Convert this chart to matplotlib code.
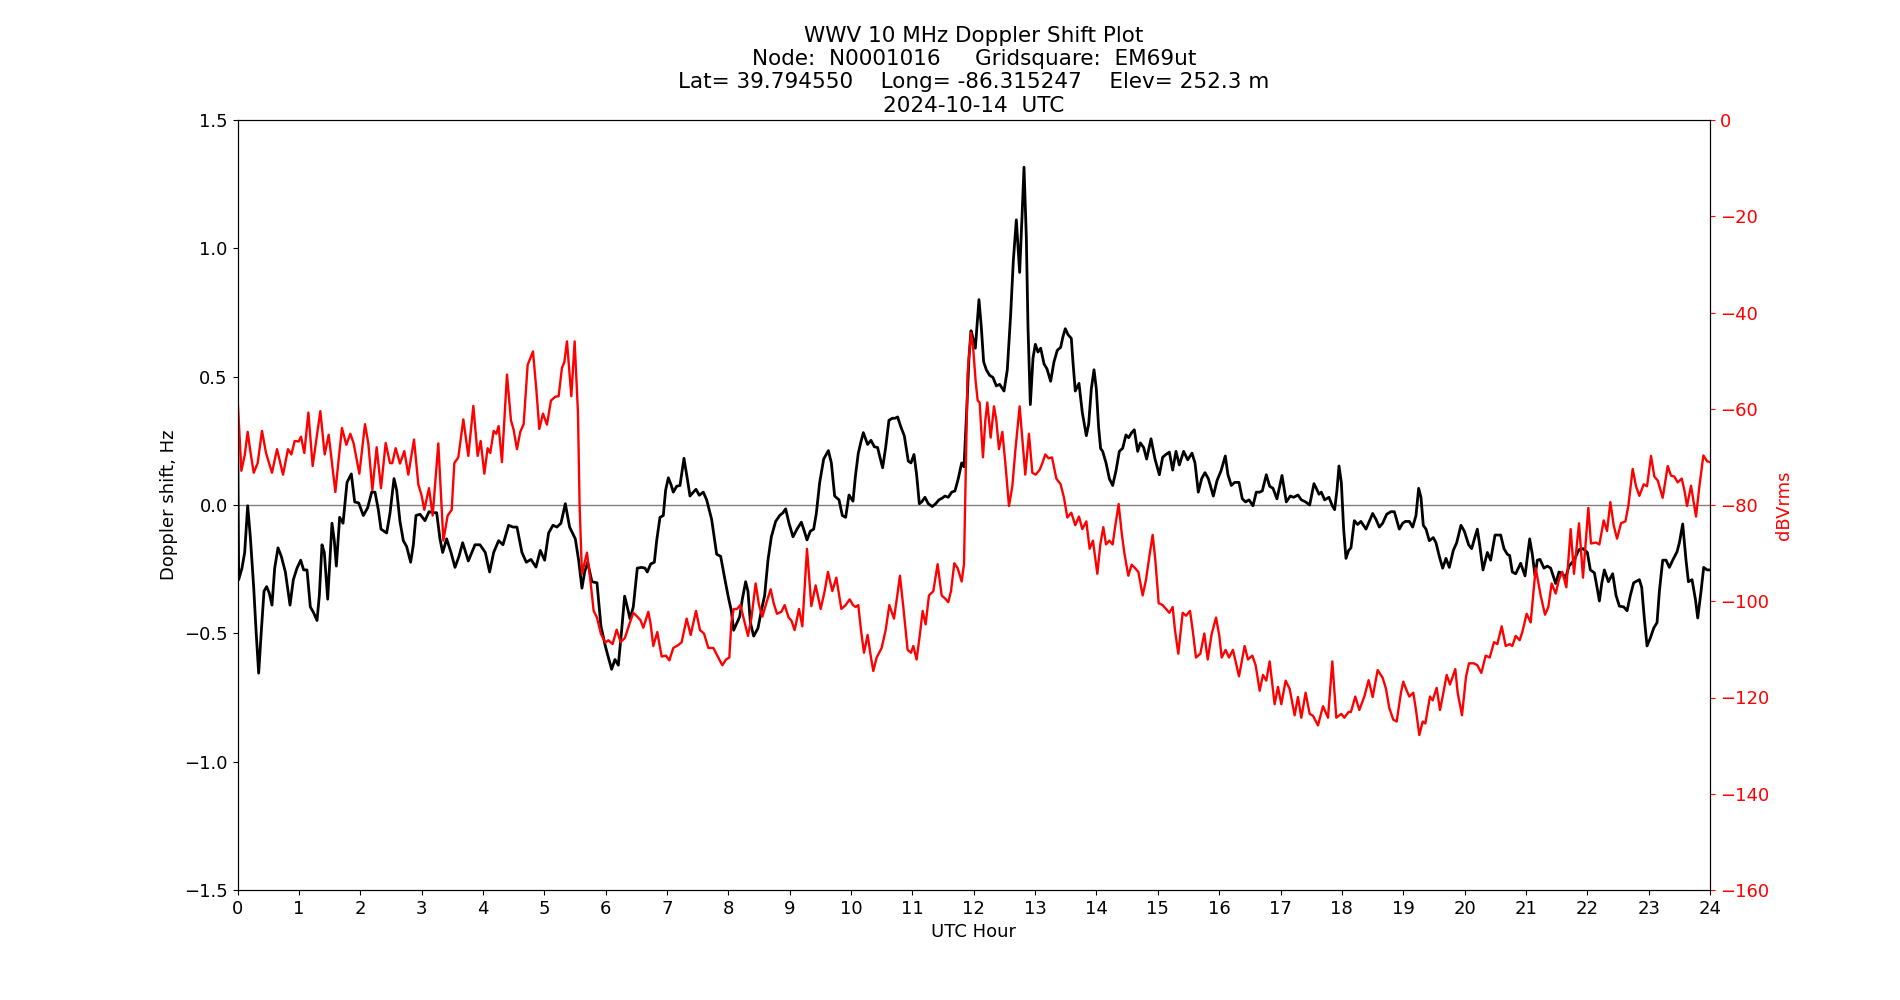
"""
WWV 10 MHz Doppler shift and received level over one UTC day.
"""

import matplotlib

matplotlib.use("Agg")
import matplotlib.pyplot as plt

# Doppler shift (Hz) vs UTC hour
dop_hours = [
    0.000, 0.019, 0.073, 0.117, 0.166, 0.209, 0.264, 0.302, 0.345, 0.389, 0.432, 0.475, 0.519, 0.562,
    0.606, 0.660, 0.714, 0.780, 0.856, 0.910, 0.970, 1.030, 1.078, 1.133, 1.187, 1.241, 1.296, 1.334,
    1.377, 1.415, 1.470, 1.540, 1.578, 1.611, 1.665, 1.720, 1.785, 1.855, 1.910, 1.975, 2.051, 2.121,
    2.187, 2.241, 2.295, 2.339, 2.431, 2.485, 2.551, 2.594, 2.648, 2.703, 2.757, 2.822, 2.866, 2.909,
    2.974, 3.056, 3.121, 3.192, 3.246, 3.300, 3.344, 3.409, 3.480, 3.545, 3.610, 3.670, 3.762, 3.871,
    3.952, 4.039, 4.109, 4.175, 4.256, 4.327, 4.419, 4.490, 4.555, 4.636, 4.707, 4.783, 4.865, 4.935,
    5.006, 5.071, 5.142, 5.207, 5.272, 5.343, 5.413, 5.506, 5.560, 5.614, 5.658, 5.707, 5.777, 5.859,
    5.924, 5.995, 6.040, 6.098, 6.152, 6.207, 6.261, 6.310, 6.353, 6.397, 6.451, 6.516, 6.587, 6.641,
    6.679, 6.734, 6.794, 6.832, 6.886, 6.940, 6.978, 7.022, 7.065, 7.103, 7.158, 7.212, 7.277, 7.331,
    7.375, 7.429, 7.473, 7.527, 7.592, 7.647, 7.728, 7.810, 7.875, 7.945, 8.000, 8.049, 8.087, 8.130,
    8.185, 8.228, 8.282, 8.320, 8.359, 8.413, 8.483, 8.538, 8.592, 8.646, 8.701, 8.771, 8.837, 8.891,
    8.934, 8.989, 9.054, 9.119, 9.190, 9.228, 9.282, 9.336, 9.391, 9.434, 9.489, 9.554, 9.630, 9.679,
    9.733, 9.804, 9.858, 9.912, 9.967, 10.032, 10.070, 10.118, 10.162, 10.200, 10.270, 10.325, 10.379,
    10.433, 10.471, 10.515, 10.564, 10.618, 10.673, 10.716, 10.759, 10.814, 10.868, 10.933, 10.977,
    11.026, 11.069, 11.113, 11.151, 11.205, 11.259, 11.324, 11.379, 11.433, 11.487, 11.531, 11.585,
    11.640, 11.694, 11.748, 11.803, 11.841, 11.884, 11.922, 11.955, 11.990, 12.026, 12.085, 12.123,
    12.161, 12.205, 12.259, 12.313, 12.368, 12.422, 12.493, 12.547, 12.601, 12.645, 12.694, 12.748,
    12.786, 12.819, 12.857, 12.884, 12.922, 12.966, 13.004, 13.047, 13.091, 13.145, 13.194, 13.253,
    13.308, 13.362, 13.416, 13.454, 13.492, 13.536, 13.590, 13.617, 13.655, 13.715, 13.769, 13.835,
    13.873, 13.916, 13.960, 13.998, 14.036, 14.068, 14.101, 14.156, 14.210, 14.264, 14.318, 14.373,
    14.427, 14.481, 14.525, 14.574, 14.617, 14.672, 14.715, 14.769, 14.818, 14.889, 14.954, 15.025,
    15.079, 15.133, 15.188, 15.242, 15.296, 15.351, 15.421, 15.487, 15.557, 15.606, 15.660, 15.715,
    15.769, 15.823, 15.905, 15.965, 16.030, 16.100, 16.143, 16.198, 16.252, 16.323, 16.377, 16.431,
    16.486, 16.551, 16.605, 16.660, 16.703, 16.768, 16.823, 16.877, 16.942, 17.024, 17.094, 17.160,
    17.214, 17.284, 17.339, 17.409, 17.475, 17.545, 17.583, 17.627, 17.665, 17.719, 17.790, 17.844,
    17.882, 17.920, 17.953, 17.991, 18.029, 18.067, 18.110, 18.148, 18.203, 18.257, 18.311, 18.393,
    18.447, 18.502, 18.556, 18.610, 18.665, 18.730, 18.800, 18.855, 18.936, 18.991, 19.034, 19.099,
    19.154, 19.208, 19.251, 19.289, 19.327, 19.371, 19.425, 19.490, 19.534, 19.588, 19.643, 19.697,
    19.751, 19.816, 19.871, 19.941, 19.996, 20.066, 20.115, 20.170, 20.208, 20.246, 20.300, 20.371,
    20.425, 20.496, 20.588, 20.642, 20.697, 20.735, 20.778, 20.833, 20.914, 20.985, 21.061, 21.104,
    21.148, 21.186, 21.229, 21.294, 21.349, 21.403, 21.485, 21.539, 21.593, 21.648, 21.702, 21.783,
    21.865, 21.930, 22.001, 22.050, 22.115, 22.159, 22.197, 22.235, 22.278, 22.344, 22.414, 22.468,
    22.523, 22.593, 22.648, 22.702, 22.756, 22.849, 22.887, 22.930, 22.974, 23.028, 23.082, 23.137,
    23.175, 23.229, 23.283, 23.338, 23.392, 23.463, 23.501, 23.555, 23.609, 23.648, 23.707, 23.762,
    23.800, 23.854, 23.897, 23.952, 24.000,
]
doppler_hz = [
    0.420, -0.291, -0.246, -0.185, -0.003, -0.124, -0.321, -0.488, -0.655, -0.488, -0.336, -0.318, -0.344, -0.390,
    -0.246, -0.167, -0.200, -0.261, -0.390, -0.291, -0.246, -0.215, -0.253, -0.253, -0.397, -0.420, -0.450, -0.352,
    -0.155, -0.185, -0.367, -0.071, -0.139, -0.238, -0.048, -0.071, 0.088, 0.121, 0.012, 0.008, -0.041, -0.011,
    0.050, 0.050, -0.018, -0.094, -0.109, -0.033, 0.103, 0.058, -0.064, -0.139, -0.162, -0.223, -0.155, -0.041,
    -0.036, -0.061, -0.026, -0.030, -0.030, -0.132, -0.185, -0.132, -0.185, -0.243, -0.200, -0.147, -0.218, -0.155,
    -0.155, -0.185, -0.261, -0.185, -0.139, -0.155, -0.079, -0.086, -0.086, -0.185, -0.223, -0.212, -0.242, -0.177,
    -0.215, -0.109, -0.079, -0.086, -0.071, 0.005, -0.086, -0.132, -0.215, -0.324, -0.261, -0.223, -0.299, -0.303,
    -0.473, -0.549, -0.590, -0.640, -0.602, -0.624, -0.488, -0.355, -0.397, -0.443, -0.397, -0.246, -0.243, -0.246,
    -0.261, -0.230, -0.223, -0.139, -0.048, -0.041, 0.058, 0.106, 0.080, 0.050, 0.073, 0.076, 0.182, 0.103,
    0.035, 0.050, 0.061, 0.038, 0.050, 0.020, -0.056, -0.192, -0.200, -0.291, -0.359, -0.412, -0.488, -0.465,
    -0.435, -0.367, -0.299, -0.336, -0.458, -0.511, -0.480, -0.412, -0.352, -0.215, -0.124, -0.064, -0.041, -0.030,
    -0.015, -0.071, -0.124, -0.094, -0.067, -0.094, -0.136, -0.102, -0.094, -0.033, 0.088, 0.179, 0.212, 0.164,
    0.035, 0.020, -0.041, -0.048, 0.039, 0.015, 0.110, 0.202, 0.247, 0.282, 0.236, 0.252, 0.227,
    0.224, 0.186, 0.145, 0.224, 0.330, 0.338, 0.338, 0.343, 0.303, 0.270, 0.171, 0.164,
    0.197, 0.118, 0.005, 0.012, 0.030, 0.005, -0.006, 0.005, 0.020, 0.027, 0.035, 0.030,
    0.050, 0.055, 0.103, 0.164, 0.149, 0.361, 0.573, 0.679, 0.649, 0.611, 0.800, 0.694,
    0.558, 0.527, 0.505, 0.497, 0.464, 0.470, 0.444, 0.527, 0.740, 0.952, 1.111, 0.906,
    1.119, 1.316, 1.043, 0.694, 0.391, 0.573, 0.626, 0.596, 0.611, 0.550, 0.530, 0.482,
    0.558, 0.603, 0.614, 0.656, 0.687, 0.664, 0.649, 0.558, 0.444, 0.474, 0.361, 0.270,
    0.315, 0.452, 0.527, 0.452, 0.300, 0.220, 0.209, 0.164, 0.103, 0.076, 0.133, 0.209,
    0.221, 0.273, 0.262, 0.282, 0.293, 0.209, 0.242, 0.224, 0.179, 0.258, 0.179, 0.118,
    0.186, 0.197, 0.206, 0.136, 0.209, 0.156, 0.209, 0.176, 0.202, 0.164, 0.050, 0.103,
    0.126, 0.103, 0.035, 0.095, 0.133, 0.191, 0.118, 0.076, 0.088, 0.088, 0.024, 0.012,
    0.020, -0.003, 0.050, 0.050, 0.055, 0.118, 0.073, 0.065, 0.024, 0.115, 0.012, 0.035,
    0.030, 0.039, 0.020, 0.012, 0.000, 0.083, 0.065, 0.042, 0.050, 0.020, 0.030, -0.003,
    -0.018, 0.058, 0.152, 0.088, -0.094, -0.208, -0.177, -0.167, -0.061, -0.076, -0.064, -0.094,
    -0.064, -0.033, -0.056, -0.086, -0.071, -0.036, -0.026, -0.026, -0.094, -0.071, -0.064, -0.064,
    -0.086, -0.041, 0.065, 0.030, -0.079, -0.094, -0.139, -0.127, -0.147, -0.200, -0.246, -0.208,
    -0.243, -0.177, -0.147, -0.079, -0.102, -0.155, -0.170, -0.124, -0.094, -0.155, -0.253, -0.185,
    -0.215, -0.117, -0.117, -0.170, -0.192, -0.197, -0.261, -0.268, -0.227, -0.276, -0.132, -0.192,
    -0.276, -0.215, -0.212, -0.246, -0.238, -0.246, -0.306, -0.261, -0.268, -0.283, -0.238, -0.215,
    -0.174, -0.170, -0.185, -0.253, -0.264, -0.321, -0.374, -0.306, -0.253, -0.299, -0.268, -0.352,
    -0.394, -0.397, -0.412, -0.352, -0.303, -0.291, -0.321, -0.443, -0.549, -0.518, -0.480, -0.458,
    -0.336, -0.215, -0.215, -0.243, -0.215, -0.182, -0.147, -0.074, -0.215, -0.299, -0.291, -0.367,
    -0.440, -0.336, -0.243, -0.253, -0.253,
]

# Received level (dBVrms) vs UTC hour
pwr_hours = [
    0.000, 0.063, 0.117, 0.166, 0.209, 0.264, 0.329, 0.399, 0.465, 0.562, 0.644, 0.742, 0.823, 0.878,
    0.932, 0.997, 1.035, 1.089, 1.155, 1.225, 1.285, 1.350, 1.421, 1.486, 1.595, 1.649, 1.703, 1.774,
    1.839, 1.893, 1.986, 2.078, 2.132, 2.198, 2.268, 2.339, 2.415, 2.485, 2.523, 2.578, 2.648, 2.719,
    2.784, 2.877, 2.947, 3.002, 3.045, 3.121, 3.181, 3.273, 3.355, 3.425, 3.491, 3.534, 3.599, 3.681,
    3.762, 3.844, 3.914, 3.963, 4.023, 4.077, 4.120, 4.175, 4.218, 4.256, 4.310, 4.392, 4.457, 4.501,
    4.555, 4.609, 4.664, 4.729, 4.816, 4.870, 4.919, 4.979, 5.044, 5.109, 5.180, 5.234, 5.288, 5.327,
    5.370, 5.441, 5.495, 5.549, 5.576, 5.614, 5.652, 5.696, 5.750, 5.805, 5.859, 5.924, 5.995, 6.044,
    6.114, 6.180, 6.245, 6.315, 6.386, 6.451, 6.516, 6.571, 6.614, 6.696, 6.734, 6.777, 6.842, 6.913,
    6.984, 7.038, 7.103, 7.185, 7.239, 7.321, 7.386, 7.473, 7.538, 7.603, 7.674, 7.755, 7.820, 7.902,
    7.962, 8.016, 8.049, 8.087, 8.141, 8.196, 8.250, 8.320, 8.375, 8.445, 8.500, 8.554, 8.619, 8.690,
    8.739, 8.793, 8.864, 8.918, 8.983, 9.027, 9.081, 9.152, 9.206, 9.282, 9.353, 9.423, 9.505, 9.570,
    9.624, 9.695, 9.760, 9.842, 9.912, 9.978, 10.032, 10.075, 10.118, 10.162, 10.211, 10.270, 10.325,
    10.363, 10.417, 10.499, 10.564, 10.624, 10.700, 10.754, 10.797, 10.852, 10.922, 10.977, 11.015,
    11.069, 11.123, 11.167, 11.216, 11.270, 11.341, 11.411, 11.477, 11.531, 11.585, 11.629, 11.683,
    11.737, 11.803, 11.841, 11.868, 11.900, 11.955, 11.993, 12.031, 12.064, 12.096, 12.150, 12.189,
    12.221, 12.276, 12.330, 12.368, 12.411, 12.466, 12.515, 12.574, 12.629, 12.677, 12.748, 12.802,
    12.840, 12.900, 12.955, 13.009, 13.074, 13.118, 13.166, 13.221, 13.275, 13.346, 13.416, 13.471,
    13.525, 13.590, 13.655, 13.715, 13.769, 13.835, 13.889, 13.943, 14.014, 14.063, 14.112, 14.156,
    14.210, 14.264, 14.308, 14.362, 14.411, 14.454, 14.519, 14.574, 14.628, 14.683, 14.753, 14.808,
    14.862, 14.916, 14.960, 15.014, 15.079, 15.133, 15.188, 15.242, 15.280, 15.334, 15.405, 15.460,
    15.525, 15.568, 15.622, 15.693, 15.758, 15.813, 15.878, 15.949, 16.003, 16.041, 16.074, 16.105,
    16.160, 16.225, 16.268, 16.323, 16.415, 16.469, 16.540, 16.595, 16.660, 16.714, 16.768, 16.823,
    16.904, 16.959, 17.013, 17.083, 17.149, 17.230, 17.284, 17.339, 17.409, 17.475, 17.529, 17.611,
    17.692, 17.774, 17.844, 17.909, 17.991, 18.040, 18.110, 18.148, 18.219, 18.284, 18.366, 18.436,
    18.502, 18.583, 18.665, 18.719, 18.773, 18.838, 18.893, 18.963, 19.001, 19.045, 19.099, 19.164,
    19.208, 19.262, 19.317, 19.360, 19.436, 19.480, 19.545, 19.599, 19.643, 19.708, 19.762, 19.849,
    19.887, 19.958, 20.023, 20.072, 20.153, 20.208, 20.273, 20.344, 20.409, 20.480, 20.534, 20.605,
    20.670, 20.735, 20.778, 20.833, 20.898, 20.941, 21.012, 21.077, 21.159, 21.240, 21.311, 21.365,
    21.419, 21.485, 21.539, 21.593, 21.659, 21.729, 21.783, 21.865, 21.930, 22.017, 22.060, 22.142,
    22.197, 22.267, 22.322, 22.376, 22.430, 22.485, 22.550, 22.621, 22.669, 22.740, 22.794, 22.849,
    22.919, 22.974, 23.039, 23.093, 23.148, 23.229, 23.311, 23.365, 23.419, 23.474, 23.539, 23.582,
    23.626, 23.691, 23.772, 23.827, 23.892, 23.952, 24.000,
]
power_dbv = [
    -57.5, -72.9, -69.7, -64.8, -68.8, -73.3, -71.3, -64.6, -69.2, -73.3, -68.4, -73.7, -68.4, -69.5,
    -66.7, -66.8, -65.8, -69.2, -60.8, -71.9, -66.4, -60.5, -69.5, -65.4, -77.3, -70.5, -64.0, -67.5,
    -65.2, -67.2, -73.5, -63.2, -67.2, -76.9, -68.0, -76.5, -67.1, -71.3, -71.3, -68.2, -71.4, -68.8,
    -73.7, -66.4, -75.7, -78.1, -81.0, -76.5, -82.2, -67.2, -87.4, -82.2, -81.0, -71.3, -70.1, -62.2,
    -69.8, -59.4, -69.8, -66.7, -73.5, -68.2, -69.2, -64.6, -65.2, -63.6, -71.1, -52.9, -62.4, -64.4,
    -68.4, -64.8, -63.2, -50.9, -48.1, -55.9, -64.2, -61.0, -63.3, -58.3, -57.5, -57.4, -51.5, -50.3,
    -46.0, -57.4, -46.0, -60.8, -80.2, -94.3, -92.3, -89.9, -95.5, -102.0, -103.4, -106.8, -108.6, -108.1,
    -108.9, -105.9, -108.5, -107.6, -104.8, -102.4, -103.2, -104.0, -105.5, -102.2, -104.8, -109.3, -106.4, -111.5,
    -111.3, -112.3, -109.7, -109.1, -108.5, -103.6, -107.0, -102.0, -106.0, -106.7, -109.7, -109.7, -111.3, -113.3,
    -112.1, -111.7, -104.4, -101.6, -101.6, -100.8, -103.6, -107.2, -103.6, -96.3, -100.8, -103.2, -100.4, -97.5,
    -100.4, -102.6, -102.2, -100.8, -103.4, -104.0, -106.0, -101.6, -105.2, -89.1, -101.0, -96.7, -101.6, -97.9,
    -93.9, -97.9, -95.1, -101.6, -100.8, -99.6, -100.8, -101.2, -100.8, -106.0, -110.7, -107.0, -111.7,
    -114.5, -111.7, -109.7, -106.0, -100.8, -103.6, -98.8, -94.7, -101.2, -110.1, -110.7, -109.3,
    -112.1, -106.8, -102.0, -104.8, -98.8, -97.9, -92.3, -98.8, -99.4, -100.2, -97.9, -92.1,
    -93.1, -95.9, -92.3, -73.7, -52.7, -44.2, -47.8, -54.3, -58.3, -58.7, -70.1, -62.4,
    -58.7, -66.0, -59.5, -62.4, -68.4, -64.8, -71.3, -80.2, -76.1, -68.8, -59.5, -68.0,
    -73.7, -65.2, -73.3, -73.7, -72.7, -71.3, -69.5, -70.3, -70.1, -74.5, -75.7, -78.5,
    -82.6, -81.6, -84.2, -82.4, -85.0, -83.4, -89.1, -87.4, -94.3, -88.2, -84.6, -88.2,
    -87.4, -88.2, -84.2, -79.8, -85.8, -89.9, -94.7, -92.4, -93.1, -93.9, -98.8, -95.5,
    -90.7, -86.2, -91.5, -100.4, -100.8, -101.6, -102.4, -101.2, -106.0, -110.9, -102.4, -103.0,
    -102.0, -106.0, -111.7, -110.9, -106.7, -112.1, -106.8, -103.4, -107.2, -111.7, -110.9, -110.1,
    -111.7, -110.1, -112.5, -115.6, -109.3, -112.1, -111.3, -113.3, -118.6, -115.3, -116.5, -112.5,
    -121.4, -117.8, -121.4, -116.5, -118.2, -123.7, -119.9, -124.2, -119.0, -123.4, -123.8, -125.8,
    -121.8, -124.2, -112.5, -124.2, -123.4, -124.2, -123.0, -123.0, -119.8, -122.6, -119.8, -116.4,
    -119.9, -114.3, -115.9, -118.2, -122.2, -124.6, -125.0, -119.0, -116.7, -118.2, -119.8, -119.0,
    -122.6, -127.8, -125.0, -125.4, -119.8, -120.6, -118.0, -122.6, -119.8, -115.3, -117.3, -114.1,
    -119.0, -123.7, -115.7, -112.9, -112.9, -113.3, -114.9, -111.3, -111.7, -108.5, -108.9, -105.2,
    -109.3, -108.9, -109.3, -107.2, -108.1, -106.4, -102.6, -104.4, -93.1, -98.8, -102.8, -101.2,
    -96.3, -98.4, -95.5, -93.9, -97.1, -85.0, -94.3, -83.8, -95.1, -80.6, -88.0, -87.8,
    -88.2, -83.2, -85.4, -79.4, -84.2, -87.0, -83.8, -83.4, -80.2, -72.5, -76.1, -78.1,
    -75.7, -76.1, -69.8, -74.1, -74.9, -78.5, -71.9, -73.9, -74.1, -75.3, -74.5, -76.9,
    -80.2, -76.0, -82.4, -76.1, -69.7, -70.9, -71.1,
]

title_lines = [
    "WWV 10 MHz Doppler Shift Plot",
    "Node:  N0001016     Gridsquare:  EM69ut",
    "Lat= 39.794550    Long= -86.315247    Elev= 252.3 m",
    "2024-10-14  UTC",
]


def main() -> None:
    fig, ax = plt.subplots(figsize=(19, 10), dpi=100)

    ax.axhline(0, color="grey", linewidth=1)
    ax.plot(dop_hours, doppler_hz, color="black", linewidth=2)
    ax.set_xlim(0, 24)
    ax.set_ylim(-1.5, 1.5)
    ax.set_xticks(range(25))
    ax.set_yticks([-1.5, -1.0, -0.5, 0.0, 0.5, 1.0, 1.5])
    ax.tick_params(labelsize=13)
    ax.set_xlabel("UTC Hour", fontsize=13)
    ax.set_ylabel("Doppler shift, Hz", fontsize=13)
    ax.set_title("\n".join(title_lines), fontsize=15.5)

    ax2 = ax.twinx()
    ax2.plot(pwr_hours, power_dbv, color="red", linewidth=1.7)
    ax2.set_ylim(-160, 0)
    ax2.set_yticks(range(-160, 1, 20))
    ax2.tick_params(axis="y", colors="red", labelsize=13)
    ax2.set_ylabel("dBVrms", color="red", fontsize=13)

    fig.savefig("out.png", dpi=100)
    plt.close(fig)


if __name__ == "__main__":
    main()
